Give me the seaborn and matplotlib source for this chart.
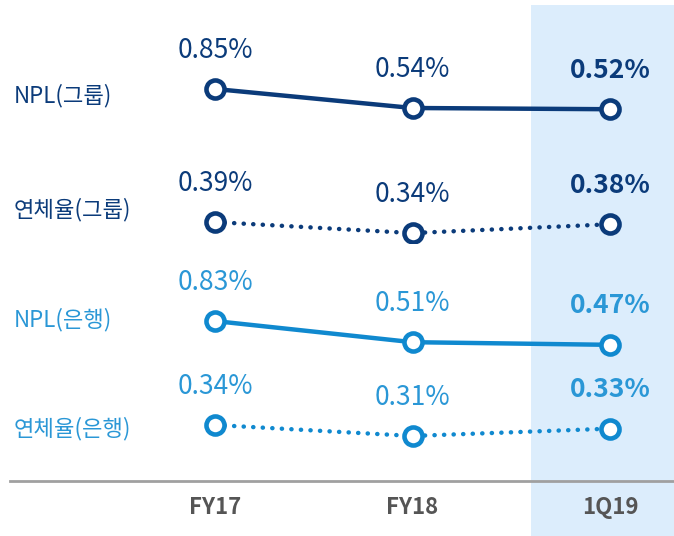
import numpy as np
import pandas as pd
import matplotlib
matplotlib.use("Agg")
import matplotlib.pyplot as plt
import seaborn as sns

# 데이터
periods = ["FY17", "FY18", "1Q19"]
series_names = ["NPL(그룹)", "연체율(그룹)", "NPL(은행)", "연체율(은행)"]
npl_group = [0.85, 0.54, 0.52]
delinq_group = [0.39, 0.34, 0.38]
npl_bank = [0.83, 0.51, 0.47]
delinq_bank = [0.34, 0.31, 0.33]

NAVY = "#0b3b7a"
BLUE = "#1089cf"
BLUE_TXT = "#2a97d6"
BAND = "#dcedfc"

sns.set_theme(style="white")
plt.rcParams["font.family"] = ["Noto Sans CJK KR", "DejaVu Sans"]

W, H = 674, 536
fig = plt.figure(figsize=(W / 100, H / 100), dpi=100)

xmin, xmax = -1.038, 2.324
left = 10 / W
top_px, bot_px = 5, 481
ax_h = (bot_px - top_px) / H
ax_b = (H - bot_px) / H

# 배경 축: 하이라이트 영역 + x축
bg = fig.add_axes([left, ax_b, 1 - left, ax_h])
bg.set_xlim(xmin, xmax)
bg.set_ylim(0, 1)
bg.axvspan(1.6, xmax, ymin=-(H - bot_px) / (bot_px - top_px), ymax=1,
           color=BAND, lw=0, clip_on=False, zorder=0)
for s in ["top", "left", "right"]:
    bg.spines[s].set_visible(False)
bg.spines["bottom"].set_color("#a0a0a0")
bg.spines["bottom"].set_linewidth(2)
bg.set_yticks([])
bg.set_xticks(np.arange(len(periods)))
bg.set_xticklabels(periods, fontsize=16, fontweight="bold", color="#555555")
bg.tick_params(axis="x", length=0, pad=11)
bg.patch.set_alpha(0)

rows = [
    (npl_group, NAVY, NAVY, "-", (0.279, 2.22)),
    (delinq_group, NAVY, NAVY, ":", (0.295, 0.835)),
    (npl_bank, BLUE, BLUE_TXT, "-", (0.21, 2.012)),
    (delinq_bank, BLUE, BLUE_TXT, ":", (0.187, 0.512)),
]
# 왼쪽 범례 텍스트 위치 (각 행 축 좌표)
name_y = [0.235, 0.277, 0.353, 0.437]

row_h = ax_h / 4
x = np.arange(len(periods))
for i, (vals, col, tcol, ls, ylim) in enumerate(rows):
    b = ax_b + ax_h - (i + 1) * row_h
    ax = fig.add_axes([left, b, 1 - left, row_h])
    ax.patch.set_alpha(0)
    df = pd.DataFrame({"x": x, "v": vals})
    if ls == "-":
        sns.lineplot(data=df, x="x", y="v", ax=ax, color=col, lw=3.2,
                     marker="o", markersize=13, markerfacecolor="white",
                     markeredgecolor=col, markeredgewidth=3.3)
    else:
        sns.lineplot(data=df, x="x", y="v", ax=ax, color=col, lw=3.2,
                     linestyle=(0, (0.05, 2.1)), dash_capstyle="round",
                     marker="o", markersize=13, markerfacecolor="white",
                     markeredgecolor=col, markeredgewidth=3.3)
    ax.set_xlim(xmin, xmax)
    ax.set_ylim(*ylim)
    ax.axis("off")
    for j, v in enumerate(vals):
        ax.annotate(f"{v:.2f}%", (j, v), xytext=(0, 28), textcoords="offset points",
                    ha="center", va="center", fontsize=19, color=tcol,
                    fontweight="bold" if j == len(vals) - 1 else "normal")
    ax.text(4 / (W - 10), name_y[i], series_names[i], transform=ax.transAxes,
            ha="left", va="center", fontsize=16, color=tcol)

fig.savefig("out.png", dpi=100, facecolor="white")
